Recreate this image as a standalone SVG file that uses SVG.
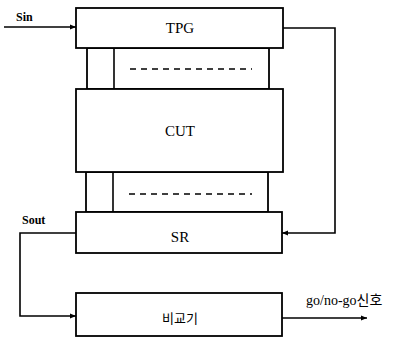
<svg xmlns="http://www.w3.org/2000/svg" width="398" height="338" viewBox="0 0 398 338">
<style>
.box{fill:#fff;stroke:#000;stroke-width:1.8}
.ln{fill:none;stroke:#000;stroke-width:1.6}
.dash{fill:none;stroke:#000;stroke-width:1.6;stroke-dasharray:6,5}
.t{font-family:"Liberation Serif","Noto Sans CJK KR",serif;font-size:15px;fill:#000;text-anchor:middle}
.s{font-family:"Liberation Serif","Noto Sans CJK KR",serif;font-size:12px;font-weight:bold;fill:#000}
</style>
<defs>
<marker id="ah" viewBox="0 0 10 10" refX="10" refY="5" markerWidth="6" markerHeight="6" orient="auto" markerUnits="userSpaceOnUse">
<path d="M0,1 L10,5 L0,9 z" fill="#000"/>
</marker>
</defs>
<g id="strip1">
<rect class="box" x="87" y="48" width="182" height="41"/>
<line class="ln" x1="114" y1="48" x2="114" y2="89"/>
<line class="dash" x1="130" y1="69" x2="252" y2="69"/>
</g>
<g id="strip2">
<rect class="box" x="86" y="172" width="182" height="40"/>
<line class="ln" x1="113" y1="172" x2="113" y2="212"/>
<line class="dash" x1="129" y1="194" x2="252" y2="194"/>
</g>
<g id="tpg">
<rect class="box" x="76" y="8" width="207" height="40"/>
<text class="t" x="180" y="33">TPG</text>
</g>
<g id="cut">
<rect class="box" x="76" y="89" width="207" height="83"/>
<text class="t" x="180" y="136">CUT</text>
</g>
<g id="sr">
<rect class="box" x="76" y="212" width="206" height="41"/>
<text class="t" x="180" y="242">SR</text>
</g>
<g id="cmp">
<rect class="box" x="76" y="293" width="206" height="43"/>
<text class="t" x="180" y="323" style="font-size:13px">비교기</text>
</g>
<g id="connectors">
<line class="ln" x1="4" y1="27" x2="76" y2="27" marker-end="url(#ah)"/>
<polyline class="ln" points="283,28 335,28 335,233 282,233" marker-end="url(#ah)"/>
<polyline class="ln" points="76,233 20,233 20,316 76,316" marker-end="url(#ah)"/>
<line class="ln" x1="282" y1="318" x2="367" y2="318" marker-end="url(#ah)"/>
</g>
<g id="labels">
<text class="s" x="16" y="21">Sin</text>
<text class="s" x="22" y="224">Sout</text>
<text class="s" x="306" y="305" style="font-weight:normal;font-size:14px">go/no-go신호</text>
</g>
</svg>
